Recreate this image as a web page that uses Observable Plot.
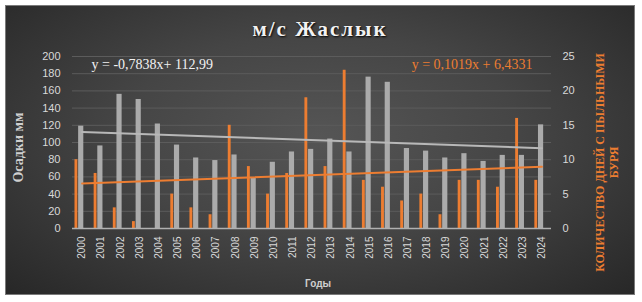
<!DOCTYPE html>
<html>
<head>
<meta charset="utf-8">
<script src="https://cdn.jsdelivr.net/npm/d3@7"></script>
<script src="https://cdn.jsdelivr.net/npm/@observablehq/plot@0.6"></script>
<style>
  html, body { margin: 0; padding: 0; background: #ffffff; }
  #chart {
    position: absolute; left: 5px; top: 5px; width: 630px; height: 290px;
    background: radial-gradient(ellipse at 50% 45%, #555555 0%, #454545 45%, #272727 100%);
    outline: 1px solid #7a7a7a; outline-offset: -1px;
  }
</style>
</head>
<body>
<div id="chart"></div>
<script>
const titleText = "м/с Жаслык";
const years = [2000, 2001, 2002, 2003, 2004, 2005, 2006, 2007, 2008, 2009, 2010, 2011, 2012,
               2013, 2014, 2015, 2016, 2017, 2018, 2019, 2020, 2021, 2022, 2023, 2024];
const precipitation = [119, 96, 156, 150, 121.5, 97, 82, 79, 85.5, 59, 77, 89, 92,
                       104, 89, 176, 170, 93, 90, 82, 87, 78, 85, 85, 120.5];
const dustDays = [10, 8, 3, 1, 0, 5, 3, 2, 15, 9, 5, 8, 19,
                  9, 23, 7, 6, 4, 5, 2, 7, 7, 6, 16, 7];
const trendYears = [2000, 2024];
const precipTrend = [112.2, 93.4];
const dustTrend = [6.54, 8.98];
const leftTicks = [0, 20, 40, 60, 80, 100, 120, 140, 160, 180, 200];
const rightTicks = [0, 5, 10, 15, 20, 25];
const precipEquation = "y = -0,7838x+ 112,99";
const dustEquation = "y = 0,1019x + 6,4331";
const leftLabel = "Осадки мм";
const rightLabel = "КОЛИЧЕСТВО ДНЕЙ С ПЫЛЬНЫМИ\nБУРЯ";
const xLabel = "Годы";

const ratio = 200 / 25; // right axis (0–25) mapped onto left axis (0–200)
const data = years.map((year, i) => ({year, precip: precipitation[i], dust: dustDays[i]}));
const pTrend = trendYears.map((year, i) => ({year, v: precipTrend[i]}));
const dTrend = trendYears.map((year, i) => ({year, v: dustTrend[i]}));

const gray = "#ababab";
const orange = "#ed7d31";
const serif = "'Liberation Serif', 'Times New Roman', serif";

const chart = Plot.plot({
  width: 630,
  height: 290,
  marginLeft: 67,
  marginRight: 84,
  marginTop: 51,
  marginBottom: 67,
  x: {type: "linear", domain: [1999.5, 2024.5]},
  y: {domain: [0, 200]},
  style: {
    background: "transparent",
    fontFamily: "'Liberation Sans', Arial, sans-serif",
    fontSize: "11px",
    color: "#d9d9d9",
    overflow: "visible"
  },
  marks: [
    Plot.gridY(leftTicks, {stroke: "#5c5c5c", strokeOpacity: 1}),
    Plot.rect(data, {
      x1: d => d.year - 0.18, x2: d => d.year + 0.09,
      y1: 0, y2: d => d.precip,
      fill: gray
    }),
    Plot.rect(data, {
      x1: d => d.year - 0.37, x2: d => d.year - 0.22,
      y1: 0, y2: d => d.dust * ratio,
      fill: orange
    }),
    Plot.ruleY([0], {stroke: "#b0b0b0", strokeWidth: 1.5}),
    Plot.line(pTrend, {x: "year", y: "v", stroke: "#b8b8b8", strokeWidth: 2}),
    Plot.line(dTrend, {x: "year", y: d => d.v * ratio, stroke: orange, strokeWidth: 2}),
    Plot.axisY({ticks: leftTicks, anchor: "left", tickSize: 0, tickPadding: 12, label: null, fontSize: 11}),
    Plot.axisY({ticks: rightTicks.map(t => t * ratio), tickFormat: d => String(d / ratio),
                anchor: "right", tickSize: 0, tickPadding: 11, label: null, fontSize: 11}),
    Plot.axisX({ticks: years, tickFormat: d => String(d), tickRotate: -90, tickSize: 0,
                tickPadding: 8, label: null, fontSize: 10}),
    Plot.text([titleText], {frameAnchor: "top", lineAnchor: "middle", textAnchor: "middle",
                            dx: 8, dy: -27, fontFamily: serif,
                            fontWeight: "bold", fontSize: 21, fill: "#f2f2f2"}),
    Plot.text([precipEquation], {frameAnchor: "top-left", lineAnchor: "middle", dx: 19, dy: 8,
                                 textAnchor: "start", fontFamily: serif, fontSize: 14, fill: "#f2f2f2"}),
    Plot.text([dustEquation], {frameAnchor: "top-right", lineAnchor: "middle", dx: -19, dy: 8,
                               textAnchor: "end", fontFamily: serif, fontSize: 14, fill: orange}),
    Plot.text([xLabel], {frameAnchor: "bottom", lineAnchor: "middle", textAnchor: "middle",
                         dx: 6, dy: 55, fontWeight: "bold", fontSize: 10, fill: "#cfcfcf"}),
    Plot.text([leftLabel], {frameAnchor: "left", lineAnchor: "middle", textAnchor: "middle",
                            dx: -54, dy: 5, rotate: -90, fontFamily: serif,
                            fontWeight: "bold", fontSize: 14, fill: "#cfcfcf"}),
    Plot.text([rightLabel], {frameAnchor: "right", lineAnchor: "middle", textAnchor: "middle",
                             dx: 55, dy: 20, rotate: -90, fontFamily: serif,
                             fontWeight: "bold", fontSize: 12, lineHeight: 1.2, fill: orange})
  ]
});

d3.select(chart).selectAll("text").each(function() {
  if (this.textContent === titleText) {
    d3.select(this).style("letter-spacing", "2px").style("text-shadow", "1px 1px 2px #000");
  }
});

document.getElementById("chart").appendChild(chart);
</script>
</body>
</html>
